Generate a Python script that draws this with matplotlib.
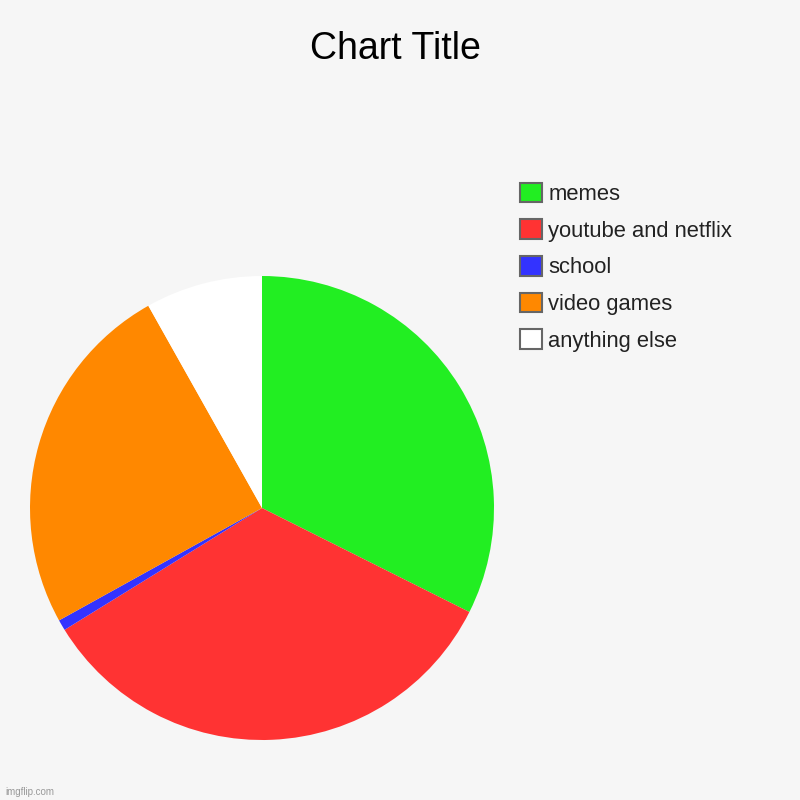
import matplotlib.pyplot as plt

labels = ['memes', 'youtube and netflix', 'school', 'video games', 'anything else']
values = [32.4, 33.8, 0.75, 24.9, 8.15]
colors = ['#22EE22', '#FF3333', '#3333FF', '#FF8800', '#FFFFFF']

plt.rcParams['font.family'] = ['Liberation Sans', 'DejaVu Sans']
bg = '#F6F6F6'

fig = plt.figure(figsize=(8, 8), dpi=100, facecolor=bg)
ax = fig.add_axes([262/800 - 0.29, 1 - 508/800 - 0.29, 0.58, 0.58])
ax.set_facecolor(bg)
wedges, _ = ax.pie(values, colors=colors, startangle=90, counterclock=False,
                   radius=1, wedgeprops={'linewidth': 0})
ax.set_xlim(-1, 1)
ax.set_ylim(-1, 1)
ax.set_aspect('equal')
ax.axis('off')

fig.text(0.494, 1 - 49/800, 'Chart Title', ha='center', va='center', fontsize=27, color='#000000')

handles = [plt.Rectangle((0, 0), 1, 1, facecolor=c, edgecolor='#666666', linewidth=1.5) for c in colors]
leg = fig.legend(handles, labels, loc='upper left', bbox_to_anchor=(511/800, 1 - 174/800),
                 frameon=False, fontsize=15.8, handlelength=1.0, handleheight=1.0,
                 handletextpad=0.3, labelspacing=0.65, borderaxespad=0)
for t in leg.get_texts():
    t.set_color('#222222')

fig.text(5/800, 1 - 792/800, 'imgflip.com', fontsize=7, color='#999999', va='center')

fig.savefig('out.png', dpi=100, facecolor=bg)
